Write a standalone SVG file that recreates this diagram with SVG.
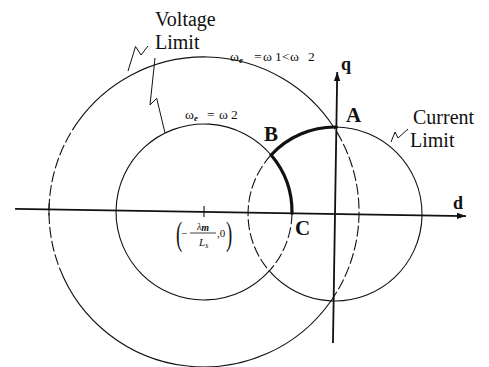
<svg xmlns="http://www.w3.org/2000/svg" width="489" height="367" viewBox="0 0 489 367">
<style>
  .ax{stroke:#111;stroke-width:1.8;fill:none}
  .c{stroke:#111;stroke-width:1.1;fill:none}
  .dash{stroke-dasharray:11 3}
  .thick{stroke:#111;stroke-width:3.2;fill:none;stroke-linecap:round}
  .ld{stroke:#111;stroke-width:1;fill:none}
  .lbl{font-family:"Liberation Serif","Times New Roman",serif;fill:#111}
  .b{font-weight:bold}
</style>
<defs>
  <marker id="arr" markerUnits="userSpaceOnUse" markerWidth="10" markerHeight="8" refX="9" refY="4" orient="auto">
    <path d="M0,0.8 L9,4 L0,7.2 z" fill="#111"/>
  </marker>
</defs>
<rect width="489" height="367" fill="#fff"/>
<g id="plot" transform="rotate(0.9 335 214)">
  <g id="axes">
    <line class="ax" x1="15" y1="214" x2="466" y2="214" marker-end="url(#arr)"/>
    <line class="ax" x1="335" y1="343" x2="335" y2="72" marker-end="url(#arr)"/>
    <line class="c" x1="204" y1="208" x2="204" y2="219"/>
    <line class="c" x1="49" y1="208" x2="49" y2="220"/>
  </g>
  <g id="voltage-limit-w1">
    <path class="c" d="M332.3,127 A155,155 0 0 0 77,125.1"/>
    <path class="c dash" d="M77,125.1 A155,155 0 0 0 60.3,272.1"/>
    <path class="c" d="M60.3,272.1 A155,155 0 0 0 332.3,301"/>
    <path class="c dash" d="M332.3,301 A155,155 0 0 0 332.3,127"/>
  </g>
  <g id="voltage-limit-w2">
    <path class="c dash" d="M292,214 A88,88 0 0 1 270.2,272"/>
    <path class="c" d="M270.2,272 A88,88 0 1 1 270.2,156"/>
  </g>
  <g id="current-limit">
    <path class="c dash" d="M270.2,156 A87,87 0 0 0 270.2,272"/>
    <path class="c" d="M270.2,272 A87,87 0 1 0 270.2,156"/>
  </g>
  <g id="trajectory">
    <path class="thick" d="M335,127 A87,87 0 0 0 270.2,156 A88,88 0 0 1 292,214"/>
  </g>
</g>
<g id="connectors">
  <polyline class="ld" points="155,58 150,105 156.7,98.3 165,133"/>
  <polyline class="ld" points="128,71 135.5,46.5 141,55 148,46" stroke-width="0.8"/>
  <polyline class="ld" points="391,142 395,132 398,138 408,129" stroke-width="0.8"/>
</g>
<g id="labels" class="lbl">
  <text x="155" y="26" font-size="20">Voltage</text>
  <text x="155" y="49" font-size="20">Limit</text>
  <text x="413" y="124" font-size="20">Current</text>
  <text x="410" y="147" font-size="20">Limit</text>
  <text x="230" y="61" font-size="13.5">ω<tspan dy="2" font-size="9" font-style="italic" font-weight="bold">e</tspan><tspan x="254" dy="-2">=</tspan><tspan x="263">ω</tspan><tspan x="275">1</tspan><tspan x="282">&lt;</tspan><tspan x="290">ω</tspan><tspan x="308">2</tspan></text>
  <text x="185" y="119" font-size="13.5">ω<tspan dy="2" font-size="9" font-style="italic" font-weight="bold">e</tspan><tspan x="207" dy="-2">=</tspan><tspan x="219">ω</tspan><tspan x="231">2</tspan></text>
  <text class="b" x="341" y="70" font-size="18">q</text>
  <text class="b" x="453" y="209" font-size="18">d</text>
  <text class="b" x="346" y="122" font-size="21">A</text>
  <text class="b" x="264" y="141" font-size="21">B</text>
  <text class="b" x="295" y="235" font-size="21">C</text>
  <g id="center-label">
    <text x="0" y="0" font-size="34" transform="translate(176,245) scale(0.55,1)">(</text>
    <text x="0" y="0" font-size="34" transform="translate(226,245) scale(0.55,1)">)</text>
    <text x="181" y="237" font-size="11">−</text>
    <line x1="190" y1="233" x2="216" y2="233" stroke="#111" stroke-width="0.8"/>
    <text x="197" y="230" font-size="10" font-style="italic">λ<tspan font-weight="bold" dy="1">m</tspan></text>
    <text x="199" y="246" font-size="11" font-style="italic">L<tspan font-size="8" dy="2">s</tspan></text>
    <text x="217" y="237" font-size="11">,0</text>
  </g>
</g>
</svg>
